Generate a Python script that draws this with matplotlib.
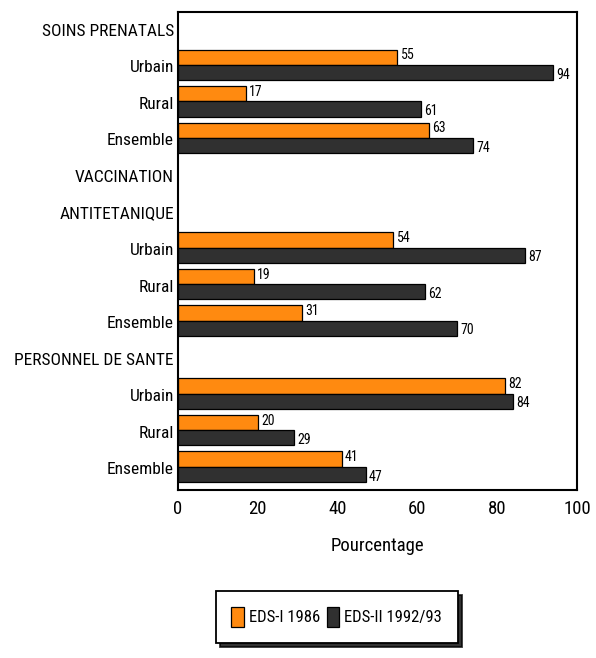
import matplotlib
matplotlib.use("Agg")
import matplotlib.pyplot as plt
import numpy as np

plt.rcParams['font.family'] = ['Roboto Condensed', 'Archivo Narrow', 'DejaVu Sans']

labels = ["SOINS PRENATALS", "Urbain", "Rural", "Ensemble",
          "VACCINATION", "ANTITETANIQUE", "Urbain", "Rural", "Ensemble",
          "PERSONNEL DE SANTE", "Urbain", "Rural", "Ensemble"]
eds1 = [None, 55, 17, 63, None, None, 54, 19, 31, None, 82, 20, 41]
eds2 = [None, 94, 61, 74, None, None, 87, 62, 70, None, 84, 29, 47]
series_names = ["EDS-I 1986", "EDS-II 1992/93"]
xticks = [0, 20, 40, 60, 80, 100]

orange = "#ff8a10"
dark = "#303030"

fig = plt.figure(figsize=(5.96, 6.58), dpi=100)
ax = fig.add_axes([0.2987, 0.2553, 0.6695, 0.7265])

h = 0.42
y = np.arange(len(labels))
for i in range(len(labels)):
    if eds1[i] is not None:
        ax.barh(y[i] - h / 2 - 0.04, eds1[i], height=h, color=orange, edgecolor="black", linewidth=0.9,
                label=series_names[0] if i == 1 else None)
        ax.text(eds1[i] + 0.8, y[i] - h / 2 - 0.09, str(eds1[i]), va="center", ha="left", fontsize=10)
    if eds2[i] is not None:
        ax.barh(y[i] + h / 2 - 0.04, eds2[i], height=h, color=dark, edgecolor="black", linewidth=0.9,
                label=series_names[1] if i == 1 else None)
        ax.text(eds2[i] + 0.8, y[i] + h / 2 + 0.02, str(eds2[i]), va="center", ha="left", fontsize=10)

ax.set_ylim(len(labels) - 0.4, -0.49)
ax.set_xlim(0, 100)
ax.set_yticks(y)
ax.set_yticklabels(labels, fontsize=12.5)
ax.set_xticks(xticks)
ax.set_xticklabels([str(t) for t in xticks], fontsize=13.5)
ax.tick_params(axis="both", length=0, pad=3)
ax.tick_params(axis="x", pad=7)
for s in ax.spines.values():
    s.set_linewidth(1.5)
ax.set_xlabel("Pourcentage", fontsize=13.5, labelpad=14)

leg = fig.legend(loc="center", bbox_to_anchor=(0.565, 0.0625), ncol=2, fontsize=12,
                 frameon=True, fancybox=False,
                 shadow={'ox': 3, 'oy': -3, 'shade': 1.0, 'alpha': 0.8},
                 handlelength=0.75, handleheight=1.5,
                 handletextpad=0.3, columnspacing=0.4, borderpad=0.95, edgecolor="black")
leg.get_frame().set_linewidth(1.3)

fig.savefig("out.png", dpi=100)
